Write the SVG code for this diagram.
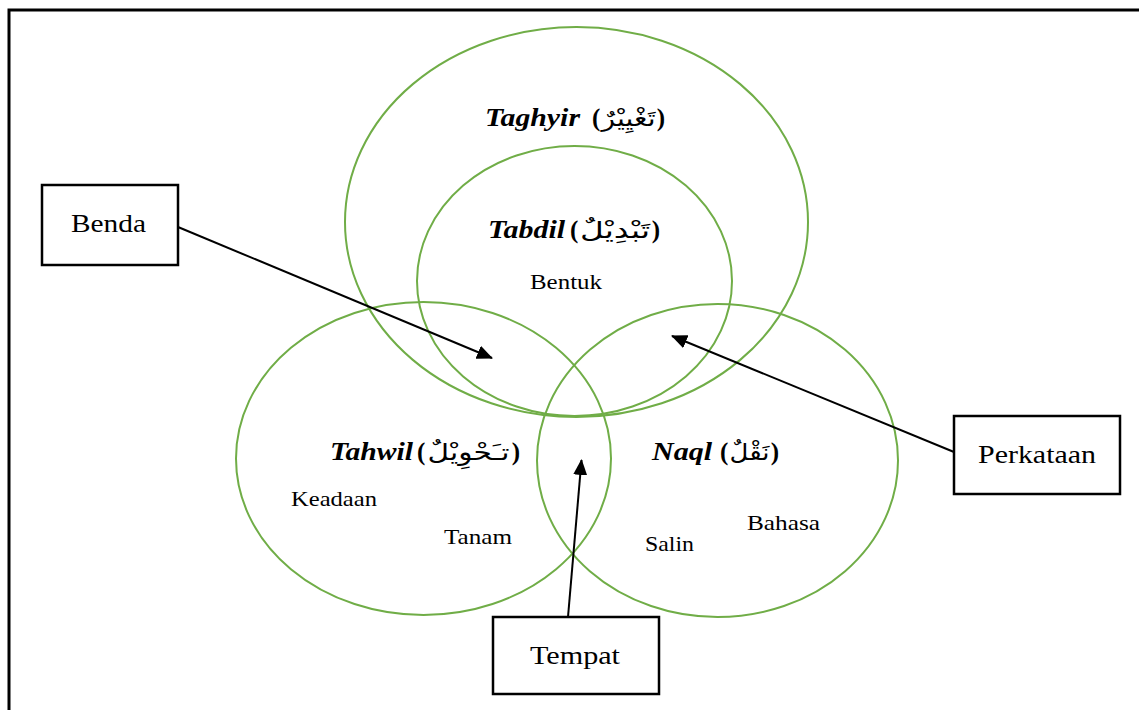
<svg xmlns="http://www.w3.org/2000/svg" width="1139" height="710" viewBox="0 0 1139 710">
<style>
.frame{fill:none;stroke:#000;stroke-width:3}
.ring{fill:none;stroke:#70AD47;stroke-width:2}
.box{fill:#fff;stroke:#000;stroke-width:2.5}
.conn{fill:none;stroke:#000;stroke-width:2}
.lbl{font-family:"Liberation Serif","Times New Roman",serif;font-size:25px;fill:#000}
.sm{font-family:"Liberation Serif","Times New Roman",serif;font-size:22px;fill:#000}
.ttl{font-family:"Liberation Serif","Times New Roman",serif;font-size:25px;font-weight:bold;font-style:italic;fill:#000}
.par{font-family:"Liberation Serif","Times New Roman",serif;font-size:25px;font-weight:bold;fill:#000}
.ar{font-family:"DejaVu Sans","Liberation Serif",sans-serif;font-size:23px;fill:#000}
</style>
<defs>
<marker id="ah" viewBox="0 0 16 14" refX="15" refY="7" markerWidth="16" markerHeight="14" markerUnits="userSpaceOnUse" orient="auto">
<path d="M0,0 L16,7 L0,14 z" fill="#000"/>
</marker>
</defs>
<rect class="frame" x="9" y="10" width="1140" height="710"/>
<g id="taghyir">
<ellipse class="ring" cx="576.5" cy="222" rx="231.5" ry="195"/>
<text class="ttl" x="485" y="126" textLength="95" lengthAdjust="spacingAndGlyphs">Taghyir</text>
<text class="par" x="592" y="126">(</text>
<text class="ar" x="628.5" y="126" text-anchor="middle" direction="rtl" textLength="54" lengthAdjust="spacingAndGlyphs">تَغْيِيْرٌ</text>
<text class="par" x="665" y="126" text-anchor="end">)</text>
</g>
<g id="tabdil">
<ellipse class="ring" cx="574.5" cy="281" rx="157.5" ry="135"/>
<text class="ttl" x="488" y="238" textLength="77" lengthAdjust="spacingAndGlyphs">Tabdil</text>
<text class="par" x="570" y="238">(</text>
<text class="ar" x="615" y="238" text-anchor="middle" direction="rtl" textLength="70" lengthAdjust="spacingAndGlyphs">تَبْدِيْلٌ</text>
<text class="par" x="660" y="238" text-anchor="end">)</text>
<text class="sm" x="530" y="289" textLength="72" lengthAdjust="spacingAndGlyphs">Bentuk</text>
</g>
<g id="tahwil">
<ellipse class="ring" cx="423.5" cy="458.5" rx="187.5" ry="156.5"/>
<text class="ttl" x="330" y="460" textLength="83" lengthAdjust="spacingAndGlyphs">Tahwil</text>
<text class="par" x="417" y="460">(</text>
<text class="ar" x="468.5" y="460" text-anchor="middle" direction="rtl" textLength="82" lengthAdjust="spacingAndGlyphs">تـَحْوِيْلٌ</text>
<text class="par" x="520" y="460" text-anchor="end">)</text>
<text class="sm" x="291" y="506" textLength="86" lengthAdjust="spacingAndGlyphs">Keadaan</text>
<text class="sm" x="444" y="544" textLength="68" lengthAdjust="spacingAndGlyphs">Tanam</text>
</g>
<g id="naql">
<ellipse class="ring" cx="717.5" cy="460.5" rx="180.5" ry="156.5"/>
<text class="ttl" x="652" y="460" textLength="60" lengthAdjust="spacingAndGlyphs">Naql</text>
<text class="par" x="720" y="460">(</text>
<text class="ar" x="749.5" y="460" text-anchor="middle" direction="rtl" textLength="40" lengthAdjust="spacingAndGlyphs">نَقْلٌ</text>
<text class="par" x="779" y="460" text-anchor="end">)</text>
<text class="sm" x="645" y="551" textLength="49" lengthAdjust="spacingAndGlyphs">Salin</text>
<text class="sm" x="747" y="530" textLength="73" lengthAdjust="spacingAndGlyphs">Bahasa</text>
</g>
<g id="connectors">
<line class="conn" x1="178" y1="227" x2="492" y2="358" marker-end="url(#ah)"/>
<line class="conn" x1="954" y1="452" x2="672" y2="336" marker-end="url(#ah)"/>
<line class="conn" x1="568" y1="617" x2="581.5" y2="460" marker-end="url(#ah)"/>
</g>
<g id="benda">
<rect class="box" x="42" y="185" width="136" height="80"/>
<text class="lbl" x="71" y="232" textLength="75" lengthAdjust="spacingAndGlyphs">Benda</text>
</g>
<g id="perkataan">
<rect class="box" x="954" y="416" width="166" height="78"/>
<text class="lbl" x="978" y="463" textLength="118" lengthAdjust="spacingAndGlyphs">Perkataan</text>
</g>
<g id="tempat">
<rect class="box" x="493" y="617" width="166" height="77"/>
<text class="lbl" x="530" y="664" textLength="90" lengthAdjust="spacingAndGlyphs">Tempat</text>
</g>
</svg>
